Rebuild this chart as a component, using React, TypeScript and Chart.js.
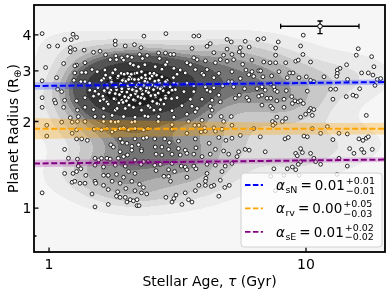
import React, { useEffect, useRef } from "react";
import { Chart, registerables } from "chart.js";

Chart.register(...registerables);

const FONT = '"DejaVu Sans", "Liberation Sans", sans-serif';

// [stellar age (Gyr), planet radius (R_earth)], by region
const planetsYoungUpper: number[][] = [
  [0.94,4.04],[1.24,4.02],[1.28,3.92],[1.15,3.85],[1.22,3.85],[2.34,3.96],[1.81,3.81],[1.81,3.70],[1.00,3.65],[1.08,3.66],
  [1.21,3.61],[1.26,3.56],[1.21,3.49],[1.37,3.54],[1.49,3.48],[1.58,3.51],[1.98,3.66],[2.15,3.70],[2.28,3.61],[1.66,3.41],
  [1.82,3.38],[1.92,3.33],[2.02,3.37],[2.25,3.42],[2.41,3.39],[1.73,3.28],[1.83,3.28],[1.95,3.27],[2.10,3.34],[2.31,3.31],
  [1.38,3.20],[1.14,3.18],[1.28,3.14],[1.26,3.12],[0.97,3.08],[1.47,3.03],[1.54,2.98],[1.26,2.95],[1.34,2.96],[1.39,2.96],
  [1.65,3.02],[1.81,3.03],[2.07,3.18],[2.13,3.14],[2.23,3.10],[2.36,3.15],[1.91,2.94],[2.02,2.94],[2.16,2.94],[2.29,2.98],
  [2.47,2.94],[1.07,2.84],[1.25,2.78],[1.33,2.75],[1.38,2.75],[1.44,2.72],[1.63,2.82],[1.74,2.80],[1.85,2.84],[1.95,2.80],
  [2.09,2.82],[2.23,2.80],[2.38,2.82],[0.94,2.77],[1.08,2.59],[1.12,2.54],[1.44,2.57],[1.51,2.55],[1.56,2.49],[1.65,2.54],
  [1.74,2.57],[1.83,2.58],[1.92,2.54],[2.04,2.60],[2.16,2.56],[2.29,2.57],[2.43,2.54],[0.94,2.42],[1.05,2.37],[1.06,2.32],
  [1.15,2.37],[1.28,2.36],[1.38,2.42],[1.49,2.45],[1.63,2.39],[1.68,2.34],[1.81,2.39],[1.92,2.37],[2.04,2.42],[2.16,2.37],
  [2.33,2.41],[0.94,2.24],[1.14,2.24],[1.29,2.19],[1.38,2.24],[1.49,2.20],[1.63,2.22],[1.81,2.19],[1.98,2.22],[2.13,2.24],
  [2.29,2.19],[2.47,2.24],[1.21,2.06],[1.30,2.08],[1.63,2.08],[1.76,2.10],[1.95,2.08],[2.16,2.07],[2.36,2.09],
];
// overlapping points packed in the dark core of the upper cluster
const planetsCore: number[][] = [
  [1.55,2.62],[1.60,2.78],[1.62,2.45],[1.66,2.90],[1.68,2.68],[1.70,2.30],[1.72,2.52],[1.75,2.74],[1.77,2.95],[1.79,2.40],
  [1.82,2.64],[1.84,2.22],[1.86,2.88],[1.88,2.48],[1.90,2.70],[1.92,2.60],[1.94,2.33],[1.96,2.92],[1.97,2.44],[1.99,2.76],
  [2.01,2.53],[2.03,2.66],[2.05,2.28],[2.06,2.86],[2.08,2.47],[2.10,2.70],[2.11,2.58],[2.13,2.38],[2.15,2.80],[2.17,2.50],
  [2.18,2.64],[2.20,2.95],[2.22,2.44],[2.24,2.72],[2.26,2.31],[2.27,2.60],[2.29,2.84],[2.31,2.49],[2.33,2.67],[2.35,2.40],
  [2.37,2.90],[2.39,2.55],[2.41,2.74],[2.43,2.27],[2.45,2.62],[2.47,2.82],[2.49,2.46],[2.51,2.68],[2.53,2.35],[2.55,2.58],
  [2.58,2.76],[2.60,2.44],[2.62,2.90],[2.64,2.63],[2.66,2.51],[2.69,2.72],[2.72,2.38],[2.75,2.86],[2.78,2.56],[2.81,2.66],
  [2.84,2.45],[2.88,2.78],[2.92,2.52],[2.96,2.64],[3.00,2.40],[3.05,2.84],[3.10,2.58],[3.15,2.70],[1.58,2.36],[1.64,2.56],
  [1.73,2.84],[1.81,2.50],[1.93,2.78],[2.00,2.36],[2.09,2.92],[2.19,2.55],[2.28,2.42],[2.36,2.76],[2.44,2.52],[2.52,2.88],
  [2.59,2.66],[2.67,2.30],[2.74,2.62],[2.86,2.70],[1.69,2.62],[1.87,2.32],[2.04,2.80],[2.21,2.68],[2.40,2.62],[2.57,2.48],
];
const planetsMidUpper: number[][] = [
  [2.85,4.04],[3.66,3.96],[3.83,3.97],[4.93,3.86],[5.12,3.78],[5.80,3.80],[6.50,3.86],[6.85,3.88],[4.24,3.73],[4.12,3.65],
  [3.60,3.59],[4.38,3.47],[4.93,3.57],[5.55,3.61],[5.50,3.49],[6.01,3.63],[2.67,3.46],[2.84,3.46],[2.97,3.42],[3.06,3.42],
  [4.78,3.40],[5.15,3.42],[5.67,3.40],[2.69,3.31],[3.66,3.33],[3.77,3.28],[4.06,3.25],[4.44,3.20],[4.64,3.28],[4.93,3.24],
  [5.23,3.28],[5.67,3.16],[6.16,3.27],[6.85,3.22],[2.88,3.22],[2.84,3.15],[3.44,3.20],[3.55,3.15],[2.59,3.10],[2.75,3.04],
  [3.06,3.06],[3.24,3.02],[3.71,3.03],[4.12,3.03],[5.15,2.98],[5.84,3.02],[6.16,2.98],[6.55,3.00],[6.66,3.00],[2.56,2.94],
  [3.15,2.92],[3.39,2.95],[3.94,2.94],[4.00,2.90],[4.38,2.84],[4.58,2.94],[5.00,2.75],[5.15,2.75],[5.55,2.82],[5.99,2.91],
  [6.26,2.87],[6.80,2.86],[2.67,2.78],[2.84,2.75],[3.06,2.72],[3.44,2.72],[3.66,2.66],[4.06,2.64],[4.38,2.62],[4.74,2.66],
  [5.23,2.64],[5.77,2.60],[6.45,2.60],[6.74,2.64],[6.94,2.57],[2.71,2.60],[3.01,2.57],[3.35,2.54],[3.66,2.54],[4.12,2.57],
  [4.24,2.54],[4.58,2.47],[5.50,2.47],[5.89,2.42],[5.99,2.37],[6.55,2.45],[6.74,2.47],[2.59,2.47],[2.84,2.41],[3.15,2.42],
  [3.55,2.39],[3.94,2.39],[4.31,2.37],[4.64,2.34],[5.31,2.41],[7.05,2.41],[2.63,2.31],[2.80,2.30],[3.29,2.27],[3.60,2.26],
  [3.77,2.22],[4.24,2.26],[6.74,2.28],[2.56,2.19],[2.71,2.20],[3.01,2.18],[3.44,2.12],[3.71,2.16],[4.31,2.19],[5.12,2.08],
  [4.68,2.08],[4.24,2.09],[2.67,2.08],[3.06,2.07],
];
const planetsOldUpper: number[][] = [
  [9.76,3.99],[7.80,3.78],[9.53,3.66],[15.97,3.58],[7.62,3.60],[7.62,3.40],[9.73,3.42],[15.70,3.40],[18.01,3.36],[7.24,3.20],
  [7.62,3.20],[8.34,3.20],[9.12,3.24],[9.33,3.27],[10.42,3.22],[14.39,3.15],[18.38,3.10],[13.56,3.06],[13.24,3.02],[7.85,2.98],
  [8.64,2.95],[8.90,2.95],[7.35,2.88],[8.46,2.84],[9.39,2.84],[10.03,2.86],[11.75,2.86],[13.24,2.94],[13.17,2.87],[16.46,2.95],
  [17.48,2.95],[18.22,2.90],[18.95,2.80],[19.53,2.82],[10.42,2.78],[10.73,2.75],[14.52,2.80],[7.29,2.70],[7.50,2.64],[7.57,2.57],
  [7.73,2.54],[8.38,2.56],[10.12,2.55],[12.47,2.59],[13.05,2.59],[16.18,2.60],[18.56,2.67],[7.29,2.41],[7.70,2.36],[8.21,2.39],
  [8.80,2.44],[9.06,2.36],[9.33,2.34],[9.53,2.36],[9.76,2.31],[12.73,2.39],[14.35,2.44],[15.23,2.47],[15.70,2.45],[7.29,2.26],
  [7.41,2.22],[8.21,2.24],[8.85,2.31],[10.42,2.22],[10.73,2.20],[10.27,2.18],[17.17,2.10],[7.70,2.07],[8.34,2.05],[9.53,2.07],
  [9.97,2.12],[10.58,2.10],
];
const planetsYoungLower: number[][] = [
  [1.51,2.08],[2.43,2.08],[1.23,1.99],[1.29,2.00],[1.12,1.99],[1.38,2.00],[1.63,2.00],[1.74,2.00],[1.81,1.99],[1.86,2.00],
  [2.10,1.99],[2.16,2.00],[0.98,1.94],[1.28,1.87],[1.50,1.88],[1.60,1.87],[1.68,1.89],[1.76,1.84],[1.81,1.87],[1.89,1.89],
  [1.95,1.90],[2.04,1.87],[2.16,1.89],[2.33,1.87],[2.43,1.89],[0.98,1.78],[1.23,1.82],[1.28,1.74],[1.34,1.74],[1.41,1.72],
  [1.89,1.74],[1.93,1.69],[2.16,1.74],[2.33,1.75],[2.40,1.76],[1.74,1.66],[1.78,1.63],[2.01,1.68],[2.10,1.64],[2.23,1.66],
  [2.29,1.60],[1.15,1.60],[2.10,1.59],[2.29,1.58],[1.89,1.57],[1.95,1.51],[2.02,1.53],[1.19,1.49],[1.29,1.48],[1.51,1.49],
  [1.56,1.47],[1.60,1.49],[1.68,1.49],[1.73,1.48],[1.86,1.49],[2.16,1.47],[2.33,1.45],[2.43,1.45],[1.30,1.40],[1.33,1.37],
  [1.51,1.41],[1.63,1.39],[1.81,1.41],[1.98,1.40],[2.28,1.42],[1.15,1.32],[1.24,1.32],[1.28,1.34],[1.39,1.30],[1.63,1.30],
  [1.70,1.30],[1.83,1.31],[1.95,1.28],[2.04,1.34],[2.16,1.32],[1.23,1.23],[1.26,1.24],[1.32,1.22],[1.38,1.22],[1.51,1.24],
  [1.52,1.22],[1.63,1.20],[1.76,1.24],[1.89,1.22],[2.10,1.24],[2.25,1.21],[2.33,1.18],[1.70,1.16],[1.85,1.14],[1.99,1.17],
  [2.16,1.15],[2.29,1.13],[2.40,1.12],[1.47,1.12],[0.94,1.13],[1.83,1.10],[1.89,1.09],[1.98,1.09],[2.07,1.07],[2.01,1.05],
  [2.13,1.06],[2.20,1.07],[1.70,1.03],[2.20,1.02],[2.24,1.02],[1.51,1.01],
];
const planetsMidLower: number[][] = [
  [2.66,2.00],[3.01,1.95],[3.01,1.88],[3.49,2.00],[3.94,2.02],[4.78,2.00],[5.15,1.94],[3.69,1.94],[3.83,1.94],[4.03,1.90],
  [4.38,1.90],[3.44,1.82],[3.91,1.84],[4.06,1.85],[4.44,1.85],[4.71,1.88],[6.26,1.89],[2.58,1.74],[2.82,1.74],[2.94,1.69],
  [3.19,1.71],[3.71,1.74],[4.58,1.76],[4.88,1.72],[5.15,1.75],[5.55,1.79],[6.64,1.77],[2.59,1.63],[2.75,1.63],[2.92,1.60],
  [3.19,1.61],[3.39,1.59],[3.73,1.62],[4.20,1.68],[4.44,1.60],[4.78,1.58],[5.47,1.57],[5.80,1.60],[6.01,1.59],[6.94,1.57],
  [2.61,1.54],[2.75,1.53],[3.01,1.54],[3.24,1.53],[3.44,1.55],[3.66,1.54],[3.94,1.51],[4.24,1.54],[5.00,1.54],[5.39,1.51],
  [2.58,1.41],[2.71,1.42],[3.01,1.43],[3.27,1.40],[3.39,1.39],[3.66,1.40],[3.73,1.37],[4.12,1.42],[4.44,1.41],[4.85,1.40],
  [5.15,1.43],[2.92,1.36],[3.08,1.34],[3.44,1.36],[4.12,1.32],[4.71,1.34],[2.61,1.35],[2.80,1.29],[2.92,1.29],[3.44,1.28],
  [4.08,1.27],[4.06,1.24],[4.64,1.25],[2.97,1.24],[3.83,1.20],[4.06,1.20],[4.38,1.20],[4.28,1.19],[4.83,1.18],[5.03,1.20],
  [3.39,1.13],[3.71,1.15],[3.12,1.11],[2.85,1.09],[3.06,1.08],[3.01,1.05],[3.49,1.07],[3.60,1.05],[4.58,1.10],[3.29,1.03],
];
const planetsOldLower: number[][] = [
  [7.41,2.00],[7.57,1.97],[7.44,1.94],[8.09,2.00],[10.58,1.89],[12.11,1.92],[8.29,1.74],[8.53,1.76],[9.82,1.78],[10.12,1.77],
  [11.40,1.82],[12.73,1.73],[13.44,1.82],[14.48,1.81],[16.07,1.74],[16.66,1.72],[17.17,1.75],[17.48,1.77],[9.53,1.61],[14.79,1.61],
  [16.46,1.60],[18.11,1.60],[9.12,1.55],[9.25,1.52],[9.68,1.56],[10.42,1.55],[15.37,1.55],[16.81,1.56],[10.73,1.49],[10.90,1.45],
  [11.40,1.42],[13.44,1.49],[9.33,1.42],[9.53,1.45],[14.48,1.40],[7.50,1.37],[8.46,1.37],[8.85,1.39],[9.12,1.36],[7.29,1.29],
  [8.21,1.30],[9.40,1.30],[13.20,1.31],[7.60,1.15],[8.00,1.20],
];

const planets: number[][] = [
  ...planetsYoungUpper, ...planetsCore, ...planetsMidUpper, ...planetsOldUpper,
  ...planetsYoungLower, ...planetsMidLower, ...planetsOldLower,
];

// axes
const xRange = [0.874, 20.3];
const yRange = [0.704, 5.08];
const xTicks = [1, 10];
const yTicks = [1, 2, 3, 4];
const yMinorTicks = [0.8];

// power-law fits R = norm * age^alpha with 1-sigma bands
const fitNames = ["sN", "rv", "sE"];
const fitColors = ["#0000ff", "#ffa500", "#800080"];
const fitBandColors = ["rgba(40,60,255,0.28)", "rgba(255,165,0,0.30)", "rgba(150,0,150,0.22)"];
const fitAlpha = [0.01, 0.0, 0.01];
const fitNorm = [2.66, 1.888, 1.431];
const fitPivot = [8, 15, 12];
const fitSigmaNorm = [0.0085, 0.02, 0.0085];
const fitSigmaAlpha = [0.01, 0.025, 0.009];
const fitValue = ["0.01", "0.00", "0.01"];
const fitErrPlus = ["+0.01", "+0.05", "+0.02"];
const fitErrMinus = ["\u22120.01", "\u22120.03", "\u22120.02"];
const bandAges = [0.874, 1, 1.25, 1.6, 2, 2.5, 3.2, 4, 5, 6.3, 8, 10, 12.6, 16, 20.3];

// typical uncertainty marker [low, centre, high]
const errAge = [7.97, 11.34, 16.08];
const errRadius = [4.04, 4.285, 4.47];

const densityPalette = [
  "#f6f6f6", "#ebebeb", "#dcdcdc", "#c8c8c8", "#b0b0b0",
  "#939393", "#747474", "#555555", "#383838", "#1f1f1f",
];
const bwAdjustX = 1.15;
const bwAdjustY = 0.95;

function fitRadius(i: number, age: number) {
  return fitNorm[i] * Math.pow(age, fitAlpha[i]);
}
function fitSigma(i: number, age: number) {
  const d = Math.log10(age / fitPivot[i]);
  return Math.sqrt(fitSigmaNorm[i] ** 2 + (fitSigmaAlpha[i] * d) ** 2);
}

let densityCache: { key: string; canvas: HTMLCanvasElement } | null = null;

function renderDensity(chart: any): HTMLCanvasElement {
  const ca = chart.chartArea;
  const xs = chart.scales.x;
  const ys = chart.scales.y;
  const W = Math.max(1, Math.round(ca.right - ca.left));
  const H = Math.max(1, Math.round(ca.bottom - ca.top));
  const step = 2;
  const nx = Math.floor(W / step) + 2;
  const ny = Math.floor(H / step) + 2;
  const gx = new Float64Array(nx);
  const gy = new Float64Array(ny);
  for (let i = 0; i < nx; i++) gx[i] = Math.log10(xs.getValueForPixel(ca.left + i * step));
  for (let j = 0; j < ny; j++) gy[j] = Math.log10(ys.getValueForPixel(ca.top + j * step));
  const lx = planets.map((p) => Math.log10(p[0]));
  const ly = planets.map((p) => Math.log10(p[1]));
  const n = lx.length;
  const sd = (a: number[]) => {
    const m = a.reduce((s, v) => s + v, 0) / a.length;
    return Math.sqrt(a.reduce((s, v) => s + (v - m) ** 2, 0) / (a.length - 1));
  };
  const scott = Math.pow(n, -1 / 6);
  const bx = sd(lx) * scott * bwAdjustX;
  const by = sd(ly) * scott * bwAdjustY;
  const dens = new Float64Array(nx * ny);
  const wx = new Float64Array(nx);
  const wy = new Float64Array(ny);
  for (let k = 0; k < n; k++) {
    for (let i = 0; i < nx; i++) {
      const u = (gx[i] - lx[k]) / bx;
      wx[i] = Math.exp(-0.5 * u * u);
    }
    for (let j = 0; j < ny; j++) {
      const v = (gy[j] - ly[k]) / by;
      wy[j] = Math.exp(-0.5 * v * v);
    }
    for (let j = 0; j < ny; j++) {
      const w = wy[j];
      if (w < 1e-6) continue;
      const row = j * nx;
      for (let i = 0; i < nx; i++) dens[row + i] += w * wx[i];
    }
  }
  const sorted = Array.from(dens).sort((a, b) => a - b);
  const total = sorted.reduce((s, v) => s + v, 0);
  const thresholds: number[] = [];
  let cum = 0;
  let idx = 0;
  const nLevels = densityPalette.length - 1;
  for (let k = 0; k < nLevels; k++) {
    const q = 0.05 + (k * 0.95) / nLevels;
    while (idx < sorted.length - 1 && cum + sorted[idx] < q * total) {
      cum += sorted[idx];
      idx++;
    }
    thresholds.push(sorted[idx]);
  }
  const off = document.createElement("canvas");
  off.width = W;
  off.height = H;
  const octx = off.getContext("2d")!;
  const img = octx.createImageData(W, H);
  const pal = densityPalette.map((h) => [
    parseInt(h.slice(1, 3), 16),
    parseInt(h.slice(3, 5), 16),
    parseInt(h.slice(5, 7), 16),
  ]);
  for (let py = 0; py < H; py++) {
    const fy = (py + 0.5) / step;
    const j0 = Math.min(Math.floor(fy), ny - 2);
    const ty = fy - j0;
    for (let px = 0; px < W; px++) {
      const fx = (px + 0.5) / step;
      const i0 = Math.min(Math.floor(fx), nx - 2);
      const tx = fx - i0;
      const a = dens[j0 * nx + i0];
      const b = dens[j0 * nx + i0 + 1];
      const c = dens[(j0 + 1) * nx + i0];
      const d = dens[(j0 + 1) * nx + i0 + 1];
      const val = (a * (1 - tx) + b * tx) * (1 - ty) + (c * (1 - tx) + d * tx) * ty;
      let band = 0;
      while (band < thresholds.length && val >= thresholds[band]) band++;
      const col = pal[band];
      const o = (py * W + px) * 4;
      img.data[o] = col[0];
      img.data[o + 1] = col[1];
      img.data[o + 2] = col[2];
      img.data[o + 3] = 255;
    }
  }
  octx.putImageData(img, 0, 0);
  return off;
}

const densityPlugin = {
  id: "densityContours",
  beforeDatasetsDraw(chart: any) {
    const ca = chart.chartArea;
    const key = `${ca.left},${ca.top},${ca.right},${ca.bottom}`;
    if (!densityCache || densityCache.key !== key) {
      densityCache = { key, canvas: renderDensity(chart) };
    }
    const ctx = chart.ctx;
    ctx.save();
    ctx.drawImage(densityCache.canvas, ca.left, ca.top, ca.right - ca.left, ca.bottom - ca.top);
    ctx.restore();
  },
};

const errorBarPlugin = {
  id: "typicalErrorBar",
  beforeDatasetDraw(chart: any, args: any) {
    const ds = chart.data.datasets[args.index];
    if (!ds || ds.label !== "uncertainty") return;
    const xs = chart.scales.x;
    const ys = chart.scales.y;
    const ctx = chart.ctx;
    const x0 = xs.getPixelForValue(errAge[0]);
    const xc = xs.getPixelForValue(errAge[1]);
    const x1 = xs.getPixelForValue(errAge[2]);
    const y0 = ys.getPixelForValue(errRadius[0]);
    const yc = ys.getPixelForValue(errRadius[1]);
    const y1 = ys.getPixelForValue(errRadius[2]);
    const cap = 2.6;
    ctx.save();
    ctx.strokeStyle = "#000";
    ctx.lineWidth = 1.3;
    ctx.beginPath();
    ctx.moveTo(x0, yc); ctx.lineTo(x1, yc);
    ctx.moveTo(x0, yc - cap); ctx.lineTo(x0, yc + cap);
    ctx.moveTo(x1, yc - cap); ctx.lineTo(x1, yc + cap);
    ctx.moveTo(xc, y0); ctx.lineTo(xc, y1);
    ctx.moveTo(xc - cap, y0); ctx.lineTo(xc + cap, y0);
    ctx.moveTo(xc - cap, y1); ctx.lineTo(xc + cap, y1);
    ctx.stroke();
    ctx.restore();
  },
};

function drawLegend(ctx: CanvasRenderingContext2D, ca: any) {
  const right = ca.right - 3;
  const bottom = ca.bottom - 5;
  const w = 141;
  const h = 74;
  const left = right - w;
  const top = bottom - h;
  const r = 3;
  ctx.save();
  ctx.beginPath();
  ctx.moveTo(left + r, top);
  ctx.lineTo(right - r, top);
  ctx.quadraticCurveTo(right, top, right, top + r);
  ctx.lineTo(right, bottom - r);
  ctx.quadraticCurveTo(right, bottom, right - r, bottom);
  ctx.lineTo(left + r, bottom);
  ctx.quadraticCurveTo(left, bottom, left, bottom - r);
  ctx.lineTo(left, top + r);
  ctx.quadraticCurveTo(left, top, left + r, top);
  ctx.closePath();
  ctx.fillStyle = "rgba(255,255,255,0.8)";
  ctx.fill();
  ctx.strokeStyle = "#d0d0d0";
  ctx.lineWidth = 1;
  ctx.stroke();

  const main = 13.5;
  const small = 9.5;
  for (let i = 0; i < fitNames.length; i++) {
    const base = top + 17 + i * 23.4;
    const ly = base - 5;
    ctx.setLineDash([5.5, 2.4]);
    ctx.strokeStyle = fitColors[i];
    ctx.lineWidth = 1.8;
    ctx.beginPath();
    ctx.moveTo(left + 4, ly);
    ctx.lineTo(left + 22, ly);
    ctx.stroke();
    ctx.setLineDash([]);

    ctx.fillStyle = "#000";
    ctx.textAlign = "left";
    ctx.textBaseline = "alphabetic";
    let x = left + 35;
    ctx.font = `italic ${main}px ${FONT}`;
    ctx.fillText("\u03b1", x, base);
    x += ctx.measureText("\u03b1").width + 0.5;
    ctx.font = `${small}px ${FONT}`;
    ctx.fillText(fitNames[i], x, base + 3);
    x += ctx.measureText(fitNames[i]).width + 3;
    ctx.font = `${main}px ${FONT}`;
    ctx.fillText("=", x, base);
    x += ctx.measureText("=").width + 3;
    ctx.fillText(fitValue[i], x, base);
    x += ctx.measureText(fitValue[i]).width + 1;
    ctx.font = `${small}px ${FONT}`;
    ctx.fillText(fitErrPlus[i], x, base - 6);
    ctx.fillText(fitErrMinus[i], x, base + 3.5);
  }
  ctx.restore();
}

const framePlugin = {
  id: "frameAndLabels",
  afterDraw(chart: any) {
    const ctx: CanvasRenderingContext2D = chart.ctx;
    const ca = chart.chartArea;
    const xs = chart.scales.x;
    const ys = chart.scales.y;
    ctx.save();
    ctx.strokeStyle = "#000";
    ctx.lineWidth = 1.3;
    ctx.beginPath();
    for (const v of yTicks) {
      const y = ys.getPixelForValue(v);
      ctx.moveTo(ca.left, y);
      ctx.lineTo(ca.left + 4.5, y);
    }
    for (const v of yMinorTicks) {
      const y = ys.getPixelForValue(v);
      ctx.moveTo(ca.left, y);
      ctx.lineTo(ca.left + 2.5, y);
    }
    for (const v of xTicks) {
      const x = xs.getPixelForValue(v);
      ctx.moveTo(x, ca.bottom);
      ctx.lineTo(x, ca.bottom - 4.5);
    }
    ctx.stroke();
    ctx.lineWidth = 1.8;
    ctx.strokeRect(ca.left, ca.top, ca.right - ca.left, ca.bottom - ca.top);

    ctx.fillStyle = "#000";
    ctx.font = `14px ${FONT}`;
    ctx.textBaseline = "alphabetic";
    ctx.textAlign = "right";
    for (const v of yTicks) {
      const y = ys.getPixelForValue(v);
      ctx.fillText(String(v), ca.left - 2.5, y + 5.2);
    }
    ctx.textAlign = "center";
    for (const v of xTicks) {
      const x = xs.getPixelForValue(v);
      ctx.fillText(String(v), x, ca.bottom + 17);
    }

    const cx = (ca.left + ca.right) / 2;
    const p1 = "Stellar Age, ";
    const p2 = "\u03c4";
    const p3 = " (Gyr)";
    ctx.font = `14px ${FONT}`;
    const w1 = ctx.measureText(p1).width;
    const w3 = ctx.measureText(p3).width;
    ctx.font = `italic 14px ${FONT}`;
    const w2 = ctx.measureText(p2).width;
    let x = cx - (w1 + w2 + w3) / 2;
    const xb = ca.bottom + 33.5;
    ctx.textAlign = "left";
    ctx.font = `14px ${FONT}`;
    ctx.fillText(p1, x, xb);
    x += w1;
    ctx.font = `italic 14px ${FONT}`;
    ctx.fillText(p2, x, xb);
    x += w2;
    ctx.font = `14px ${FONT}`;
    ctx.fillText(p3, x, xb);

    const cy = (ca.top + ca.bottom) / 2;
    const q1 = "Planet Radius (R";
    const q2 = "\u2295";
    const q3 = ")";
    ctx.font = `14px ${FONT}`;
    const v1 = ctx.measureText(q1).width;
    const v3 = ctx.measureText(q3).width;
    ctx.font = `10px ${FONT}`;
    const v2 = ctx.measureText(q2).width;
    ctx.translate(18, cy);
    ctx.rotate(-Math.PI / 2);
    let t = -(v1 + v2 + v3) / 2;
    ctx.font = `14px ${FONT}`;
    ctx.fillText(q1, t, 0);
    t += v1;
    ctx.font = `10px ${FONT}`;
    ctx.fillText(q2, t, 2.5);
    t += v2;
    ctx.font = `14px ${FONT}`;
    ctx.fillText(q3, t, 0);
    ctx.restore();

    drawLegend(ctx, ca);
  },
};

export default function App() {
  const ref = useRef<HTMLCanvasElement | null>(null);
  useEffect(() => {
    if (!ref.current) return;
    densityCache = null;
    const datasets: any[] = [
      {
        type: "scatter",
        label: "planets",
        data: planets.map((p) => ({ x: p[0], y: p[1] })),
        pointRadius: 1.9,
        pointBorderWidth: 0.9,
        pointBackgroundColor: "#ffffff",
        pointBorderColor: "#111111",
        order: 10,
      },
    ];
    fitNames.forEach((_, i) => {
      datasets.push({
        type: "line",
        label: `band-upper-${i}`,
        data: bandAges.map((a) => ({ x: a, y: fitRadius(i, a) * Math.pow(10, fitSigma(i, a)) })),
        borderColor: "rgba(0,0,0,0)",
        borderWidth: 0,
        pointRadius: 0,
        backgroundColor: fitBandColors[i],
        fill: "+1",
        tension: 0,
        order: 5,
      });
      datasets.push({
        type: "line",
        label: `band-lower-${i}`,
        data: bandAges.map((a) => ({ x: a, y: fitRadius(i, a) / Math.pow(10, fitSigma(i, a)) })),
        borderColor: "rgba(0,0,0,0)",
        borderWidth: 0,
        pointRadius: 0,
        fill: false,
        tension: 0,
        order: 5,
      });
      datasets.push({
        type: "line",
        label: `fit-${fitNames[i]}`,
        data: xRange.map((a) => ({ x: a, y: fitRadius(i, a) })),
        borderColor: fitColors[i],
        borderWidth: 2,
        borderDash: [6, 2.6],
        pointRadius: 0,
        fill: false,
        order: 2,
      });
    });
    datasets.push({
      type: "scatter",
      label: "uncertainty",
      data: [{ x: errAge[1], y: errRadius[1] }],
      pointRadius: 2.3,
      pointBorderWidth: 1,
      pointBackgroundColor: "#ffffff",
      pointBorderColor: "#000000",
      order: 0,
    });

    const chart = new Chart(ref.current, {
      type: "scatter",
      data: { datasets },
      options: {
        animation: false,
        responsive: false,
        maintainAspectRatio: false,
        events: [],
        layout: { padding: { left: 0, right: 5, top: 4, bottom: 0 } },
        plugins: {
          legend: { display: false },
          tooltip: { enabled: false },
        },
        scales: {
          x: {
            type: "logarithmic",
            min: xRange[0],
            max: xRange[1],
            bounds: "data",
            grid: { display: false },
            border: { display: false },
            ticks: { display: false },
            afterFit: (s: any) => { s.height = 42; },
          },
          y: {
            type: "logarithmic",
            min: yRange[0],
            max: yRange[1],
            bounds: "data",
            grid: { display: false },
            border: { display: false },
            ticks: { display: false },
            afterFit: (s: any) => { s.width = 34; },
          },
        },
      } as any,
      plugins: [densityPlugin, errorBarPlugin, framePlugin],
    });
    return () => chart.destroy();
  }, []);
  return (
    <div style={{ position: "absolute", left: 0, top: 0, width: 390, height: 294, background: "#fff" }}>
      <canvas ref={ref} width={390} height={294} style={{ width: 390, height: 294, display: "block" }} />
    </div>
  );
}
